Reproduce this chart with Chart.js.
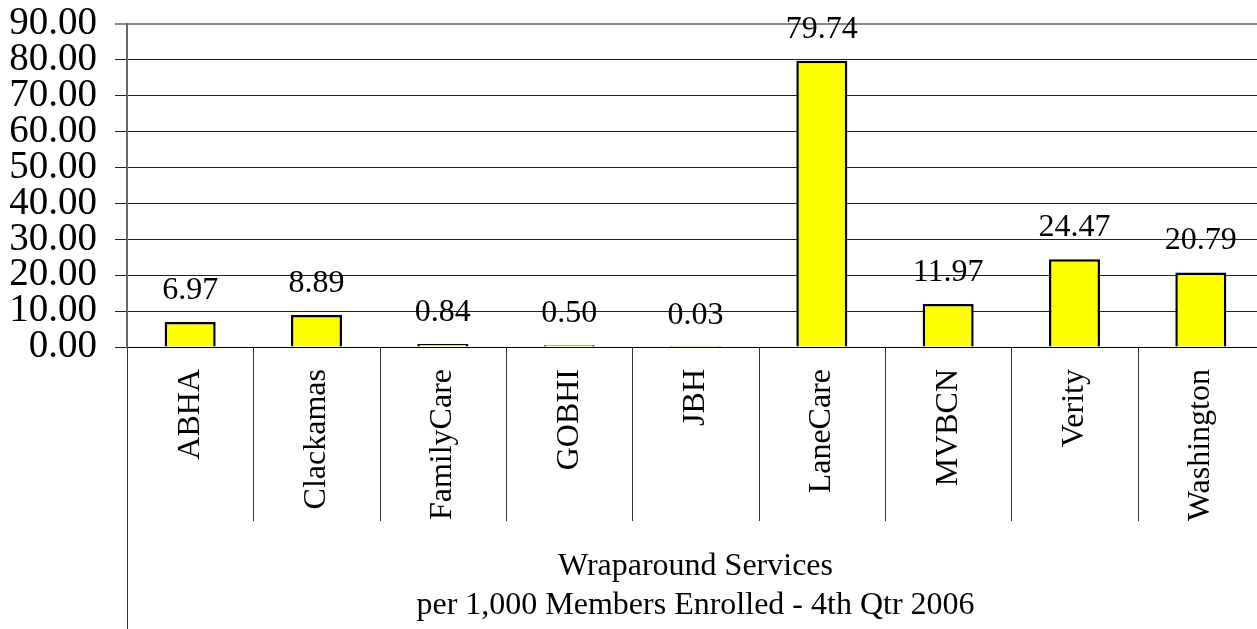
<!DOCTYPE html>
<html>
<head>
<meta charset="utf-8">
<script src="https://cdn.jsdelivr.net/npm/chart.js@4/dist/chart.umd.min.js"></script>
<style>
  html, body { margin: 0; padding: 0; background: #fff; overflow: hidden; }
  #wrap { width: 1264px; height: 629px; }
</style>
</head>
<body>
<div id="wrap"><canvas id="ch" width="1264" height="629"></canvas></div>
<script>
// ── data ─────────────────────────────────────────────────────────────
const categories = ['ABHA', 'Clackamas', 'FamilyCare', 'GOBHI', 'JBH', 'LaneCare', 'MVBCN', 'Verity', 'Washington'];
const values     = [6.97, 8.89, 0.84, 0.50, 0.03, 79.74, 11.97, 24.47, 20.79];
const yTicks     = [0, 10, 20, 30, 40, 50, 60, 70, 80, 90];
const axisTitle  = ['Wraparound Services', 'per 1,000 Members Enrolled - 4th Qtr 2006'];

const SERIF = '"Liberation Serif", "Times New Roman", serif';

// value labels above bars
const valueLabels = {
  id: 'valueLabels',
  afterDatasetsDraw(chart) {
    const ctx = chart.ctx;
    const meta = chart.getDatasetMeta(0);
    ctx.save();
    ctx.font = '32px ' + SERIF;
    ctx.fillStyle = '#000';
    ctx.textAlign = 'center';
    ctx.textBaseline = 'alphabetic';
    meta.data.forEach((bar, i) => {
      ctx.fillText(values[i].toFixed(2), bar.x, bar.y - 23);
    });
    ctx.restore();
  }
};

// category separators under the axis + long left rule
const catFrame = {
  id: 'catFrame',
  afterDraw(chart) {
    const ctx = chart.ctx;
    const x = chart.scales.x;
    const a = chart.chartArea;
    const step = x.getPixelForValue(1) - x.getPixelForValue(0);
    ctx.save();
    ctx.strokeStyle = '#333';
    ctx.lineWidth = 1;
    ctx.beginPath();
    for (let i = 1; i <= categories.length; i++) {
      const px = Math.round(x.getPixelForValue(i) - step / 2) + 0.5;
      ctx.moveTo(px, a.bottom);
      ctx.lineTo(px, 521);
    }
    ctx.moveTo(Math.round(a.left) + 0.5, a.bottom);
    ctx.lineTo(Math.round(a.left) + 0.5, chart.height);
    ctx.stroke();
    ctx.restore();
  }
};

new Chart(document.getElementById('ch'), {
  type: 'bar',
  data: {
    labels: categories,
    datasets: [{
      data: values,
      backgroundColor: '#ffff00',
      borderColor: '#000',
      borderWidth: 2.5,
      barPercentage: 0.404,
      categoryPercentage: 1
    }]
  },
  options: {
    responsive: false,
    animation: false,
    devicePixelRatio: 1,
    layout: { padding: { top: 24, left: 0, right: 0, bottom: 0 } },
    plugins: { legend: { display: false }, tooltip: { enabled: false } },
    scales: {
      x: {
        afterFit(s) { s.height = 282; s.paddingLeft = 0; s.paddingRight = 0; },
        grid: { display: false, drawTicks: false },
        border: { display: true, color: '#000', width: 1 },
        ticks: {
          minRotation: 90, maxRotation: 90, autoSkip: false,
          padding: 22, color: '#000',
          font: { family: SERIF, size: 32 }
        },
        title: {
          display: true, text: axisTitle, color: '#000',
          font: { family: SERIF, size: 32, lineHeight: 1.22 },
          padding: { top: 0, bottom: 4 }
        }
      },
      y: {
        min: 0, max: 90,
        afterFit(s) { s.width = 127; s.paddingTop = 0; s.paddingBottom = 0; },
        afterBuildTicks(s) { s.ticks = yTicks.map(v => ({ value: v })); },
        grid: {
          color: c => c.tick && c.tick.value === 90 ? '#888' : '#222',
          lineWidth: c => c.tick && c.tick.value === 90 ? 2 : 1,
          tickLength: 12
        },
        border: { display: true, color: '#666', width: 2 },
        ticks: {
          autoSkip: false,
          padding: 18, color: '#000',
          font: { family: SERIF, size: 39 },
          callback: v => Number(v).toFixed(2)
        }
      }
    }
  },
  plugins: [valueLabels, catFrame]
});
</script>
</body>
</html>
